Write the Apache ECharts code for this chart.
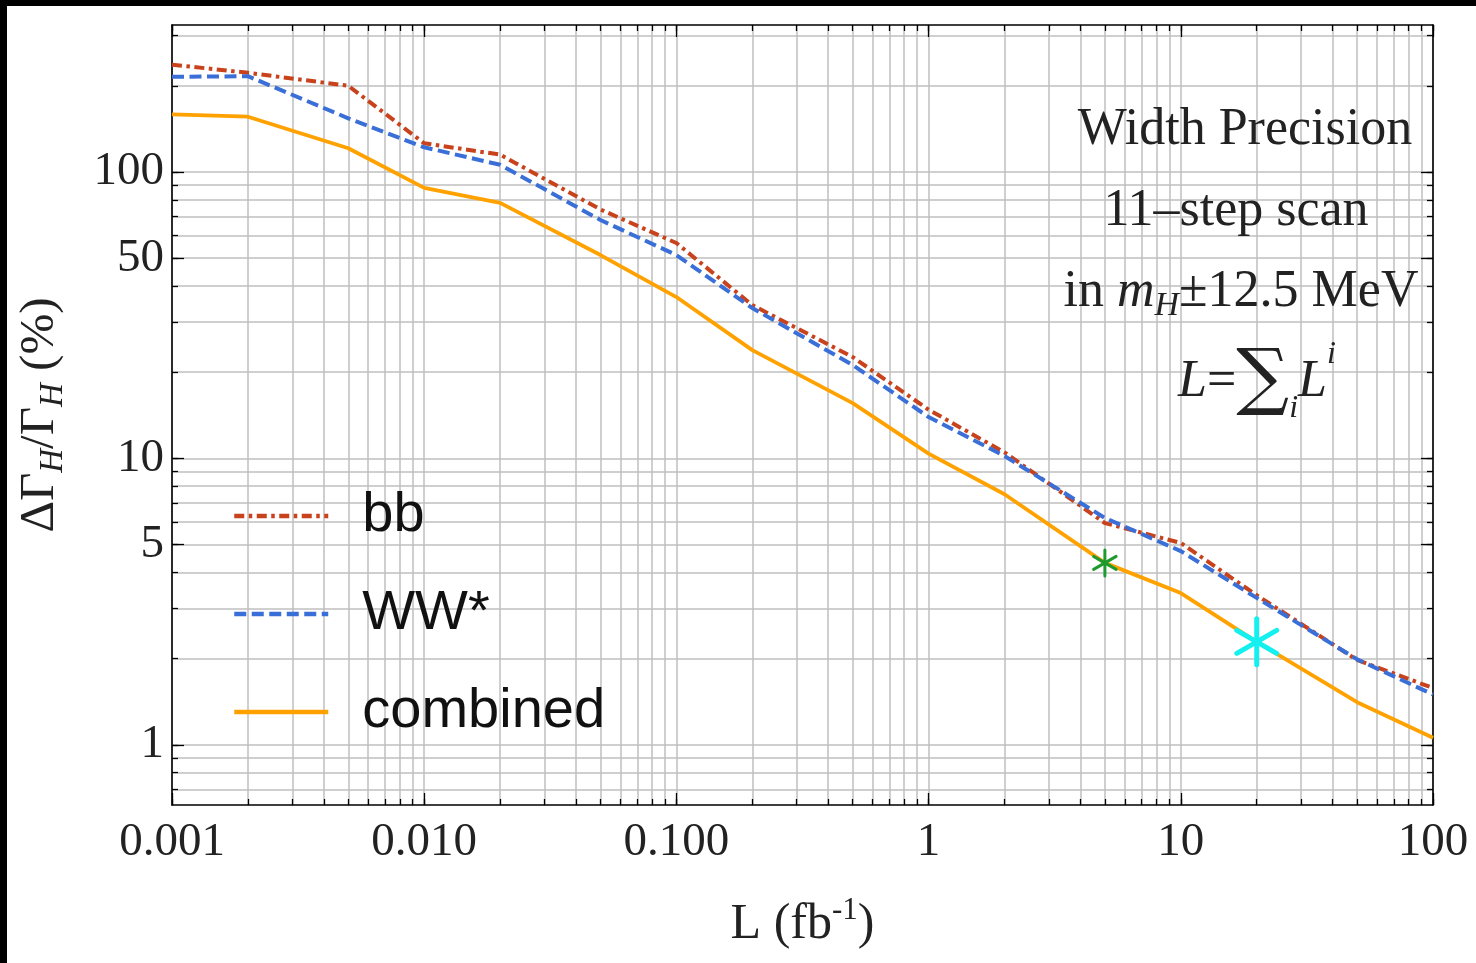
<!DOCTYPE html>
<html><head><meta charset="utf-8">
<script src="https://cdn.jsdelivr.net/npm/echarts@6/dist/echarts.min.js"></script>
<style>
html,body{margin:0;padding:0;background:#000;width:1476px;height:963px;overflow:hidden}
#c{position:absolute;left:7px;top:6px;width:1469px;height:957px;background:#fff}
</style></head><body><div id="c"></div>
<script>
// ---- data ----
const luminosity = [0.001, 0.002, 0.005, 0.01, 0.02, 0.05, 0.1, 0.2, 0.5, 1, 2, 5, 10, 20, 50, 100];
const bbPrecision = [237, 222, 200, 126, 115, 74, 56.5, 34.3, 22.6, 14.8, 10.5, 5.95, 5.07, 3.33, 1.98, 1.58];
const wwPrecision = [215, 216, 154, 122, 106, 68, 51.3, 33.5, 21.2, 13.95, 10.2, 6.2, 4.75, 3.26, 1.99, 1.50];
const combinedPrecision = [159, 156, 121, 88, 78, 51.3, 36.6, 23.9, 15.6, 10.4, 7.5, 4.32, 3.39, 2.29, 1.41, 1.06];
const greenMarker = [[5, 4.32]];
const cyanMarker = [[20, 2.29]];

const xLabelValues = [0.001, 0.01, 0.1, 1, 10, 100];
const xLabelTexts = ['0.001', '0.010', '0.100', '1', '10', '100'];
const yLabelValues = [1, 5, 10, 50, 100];
const yLabelTexts = ['1', '5', '10', '50', '100'];
const xDecades = [0.001, 0.01, 0.1, 1, 10, 100];
const yDecades = [0.1, 1, 10, 100];
const mantissas = [1, 2, 3, 4, 5, 6, 7, 8, 9];
const xRange = [0.001, 100];
const yRange = [0.617, 326];

// ---- helpers ----
function gridValues(decades, range) {
  const out = [];
  decades.forEach(d => mantissas.forEach(m => {
    const v = d * m;
    if (v >= range[0] * 0.999 && v <= range[1] * 1.001) out.push(v);
  }));
  return out;
}
const xMinorTicks = gridValues(xDecades, xRange);
const yMinorTicks = gridValues(yDecades, yRange);
function labelFmt(values, texts) {
  return function (v) {
    for (let i = 0; i < values.length; i++) {
      if (Math.abs(Math.log10(v / values[i])) < 0.004) return texts[i];
    }
    return '';
  };
}
const SERIF = "'Liberation Serif','DejaVu Serif',serif";
const SANS = "'Liberation Sans',Arial,sans-serif";
const frameLine = { show: true, onZero: false, lineStyle: { color: '#000', width: 1.6 } };
const tickStyle = { color: '#000', width: 1.3 };
const gridStyle = { color: '#bfbfbf', width: 1.5 };

function xAxisDef(position, ticks, len, main) {
  return {
    type: 'log', logBase: 10, min: xRange[0], max: xRange[1], position: position,
    axisLine: main ? frameLine : { show: false },
    axisTick: { show: true, inside: true, length: len, customValues: ticks, lineStyle: tickStyle },
    splitLine: { show: !!(main && position === 'bottom'), lineStyle: gridStyle },
    minorTick: { show: false }, minorSplitLine: { show: false },
    axisLabel: (main && position === 'bottom') ? {
      show: true, customValues: xLabelValues, formatter: labelFmt(xLabelValues, xLabelTexts),
      fontFamily: SERIF, fontSize: 47, color: '#222', margin: 14
    } : { show: false },
    name: (main && position === 'bottom') ? '{m|L (fb}{p|-1}{m|)}' : '',
    nameLocation: 'middle', nameGap: 90,
    nameTextStyle: {
      fontFamily: SERIF, fontSize: 50, color: '#222',
      rich: {
        m: { fontFamily: SERIF, fontSize: 50, lineHeight: 60, color: '#222' },
        p: { fontFamily: SERIF, fontSize: 31, lineHeight: 30, verticalAlign: 'top', color: '#222' }
      }
    }
  };
}
function yAxisDef(position, ticks, len, main) {
  return {
    type: 'log', logBase: 10, min: yRange[0], max: yRange[1], position: position,
    axisLine: main ? frameLine : { show: false },
    axisTick: { show: true, inside: true, length: len, customValues: ticks, lineStyle: tickStyle },
    splitLine: { show: !!(main && position === 'left'), lineStyle: gridStyle },
    minorTick: { show: false }, minorSplitLine: { show: false },
    axisLabel: (main && position === 'left') ? {
      show: true, customValues: yLabelValues, formatter: labelFmt(yLabelValues, yLabelTexts),
      fontFamily: SERIF, fontSize: 47, color: '#222', margin: 8
    } : { show: false },
    name: (main && position === 'left') ? '{m|ΔΓ}{s|H}{m|/Γ}{s|H}{m| (%)}' : '',
    nameLocation: 'middle', nameGap: 102, nameRotate: 90,
    nameTextStyle: {
      fontFamily: SERIF, fontSize: 49, color: '#222',
      rich: {
        m: { fontFamily: SERIF, fontSize: 49, lineHeight: 60, color: '#222' },
        s: { fontFamily: SERIF, fontSize: 33, fontStyle: 'italic', lineHeight: 30, verticalAlign: 'bottom', color: '#222' }
      }
    }
  };
}

function asterisk(r, w, color) {
  return function (params, api) {
    const p = api.coord([api.value(0), api.value(1)]);
    const children = [90, 30, 150].map(function (deg) {
      const a = deg * Math.PI / 180;
      const dx = r * Math.cos(a), dy = r * Math.sin(a);
      return { type: 'line', shape: { x1: p[0] - dx, y1: p[1] - dy, x2: p[0] + dx, y2: p[1] + dy },
               style: { stroke: color, lineWidth: w, lineCap: 'round' } };
    });
    return { type: 'group', children: children };
  };
}
function pairs(xs, ys) { return xs.map((x, i) => [x, ys[i]]); }

const RED = '#c8421c', BLUE = '#3a6fd8', ORANGE = '#ffa200';

const chart = echarts.init(document.getElementById('c'), null, { renderer: 'canvas' });
chart.setOption({
  animation: false,
  backgroundColor: '#fff',
  grid: { left: 165, right: 43, top: 19, bottom: 158, containLabel: false },
  xAxis: [
    xAxisDef('bottom', xMinorTicks, 6, true),
    xAxisDef('bottom', xDecades, 12, false),
    xAxisDef('top', xMinorTicks, 6, true),
    xAxisDef('top', xDecades, 12, false)
  ],
  yAxis: [
    yAxisDef('left', yMinorTicks, 6, true),
    yAxisDef('left', yLabelValues, 12, false),
    yAxisDef('right', yMinorTicks, 6, true),
    yAxisDef('right', yLabelValues, 12, false)
  ],
  legend: {
    orient: 'vertical', left: 220, top: 475,
    itemWidth: 94, itemHeight: 20, itemGap: 38,
    data: ['bb', 'WW*', 'combined'],
    itemStyle: { opacity: 0 },
    lineStyle: { width: 4.5 },
    textStyle: { fontFamily: SANS, fontSize: 56, color: '#111', lineHeight: 60, padding: [0, 0, 0, 29] }
  },
  series: [
    { name: 'bb', type: 'line', data: pairs(luminosity, bbPrecision), symbol: 'none', z: 3,
      lineStyle: { color: RED, width: 4, type: [10, 4.5, 3.5, 4.5] }, itemStyle: { color: RED } },
    { name: 'WW*', type: 'line', data: pairs(luminosity, wwPrecision), symbol: 'none', z: 4,
      lineStyle: { color: BLUE, width: 4, type: [12, 5.5] }, itemStyle: { color: BLUE } },
    { name: 'combined', type: 'line', data: pairs(luminosity, combinedPrecision), symbol: 'none', z: 5,
      lineStyle: { color: ORANGE, width: 3.8, type: 'solid' }, itemStyle: { color: ORANGE } },
    { type: 'custom', data: greenMarker, renderItem: asterisk(13, 3, '#1f9a2e'), z: 10, silent: true },
    { type: 'custom', data: cyanMarker, renderItem: asterisk(23, 5, '#14f0f0'), z: 10, silent: true }
  ],
  graphic: [
    { type: 'text', x: 1238, y: 124, z: 20, style: { text: 'Width Precision', font: "52px 'Liberation Serif'", fill: '#222', align: 'center', verticalAlign: 'middle' } },
    { type: 'text', x: 1229, y: 205, z: 20, style: { text: '11–step scan', font: "52px 'Liberation Serif'", fill: '#222', align: 'center', verticalAlign: 'middle' } },
    { type: 'text', x: 1234, y: 286, z: 20, style: {
        text: '{m|in }{i|m}{s|H}{m|±12.5 MeV}', align: 'center', verticalAlign: 'middle', fill: '#222',
        rich: {
          m: { font: "52px 'Liberation Serif'", lineHeight: 62, fill: '#222' },
          i: { font: "italic 52px 'Liberation Serif'", lineHeight: 62, fill: '#222' },
          s: { font: "italic 34px 'Liberation Serif'", lineHeight: 34, verticalAlign: 'bottom', fill: '#222' }
        } } },
    { type: 'text', x: 1250, y: 376, z: 20, style: {
        text: '{i|L}{m|=}{g|∑}{s|i}{i|L}{p|i}', align: 'center', verticalAlign: 'middle', fill: '#222',
        rich: {
          m: { font: "52px 'Liberation Serif'", lineHeight: 86, fill: '#222' },
          i: { font: "italic 52px 'Liberation Serif'", lineHeight: 86, fill: '#222' },
          g: { font: "74px 'DejaVu Serif'", lineHeight: 86, fill: '#222' },
          s: { font: "italic 32px 'Liberation Serif'", lineHeight: 40, verticalAlign: 'bottom', fill: '#222' },
          p: { font: "italic 32px 'Liberation Serif'", lineHeight: 56, verticalAlign: 'top', fill: '#222' }
        } } }
  ]
});
</script></body></html>
